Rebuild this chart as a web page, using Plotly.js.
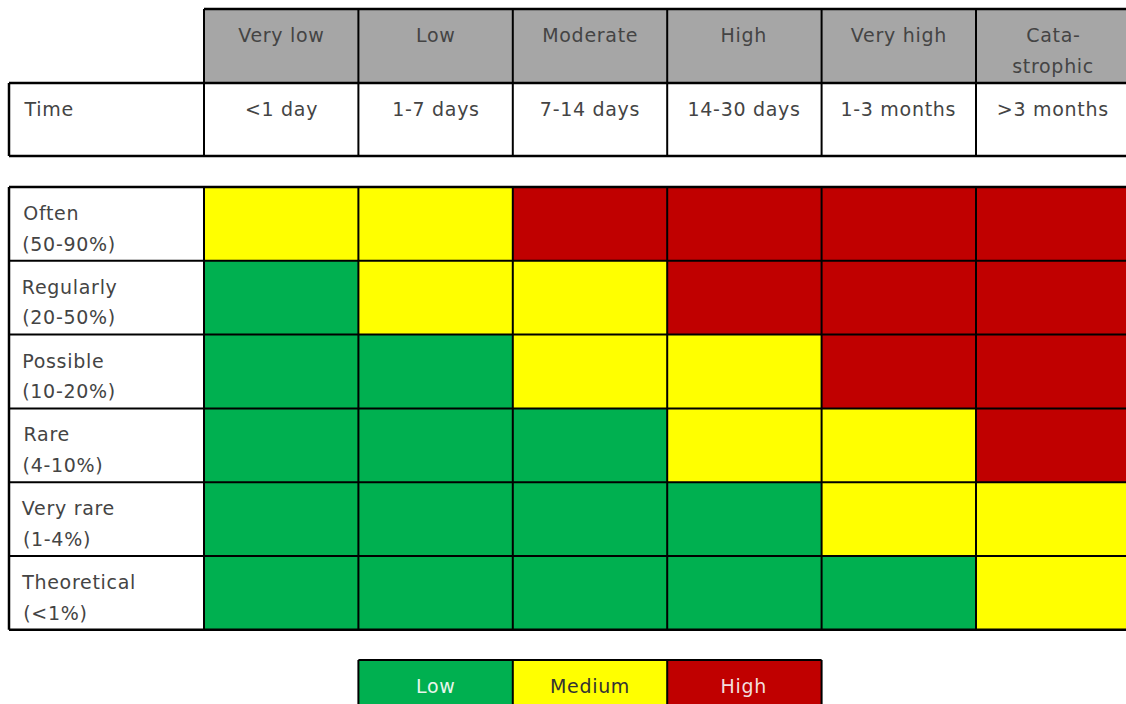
<!DOCTYPE html>
<html>
<head>
<meta charset="utf-8">
<script src="https://cdn.plot.ly/plotly-3.0.1.min.js"></script>
<style>
html,body{margin:0;padding:0;overflow:hidden;background:#fff}
#chart .annotation-text{letter-spacing:0.7px}
</style>
</head>
<body>
<div id="chart" style="width:1126px;height:704px"></div>
<script>
// ---------- data ----------
const impactLevels = ['Very low', 'Low', 'Moderate', 'High', 'Very high', 'Cata-\nstrophic'];
const durations = ['<1 day', '1-7 days', '7-14 days', '14-30 days', '1-3 months', '>3 months'];
const timeLabel = 'Time';
const likelihoods = ['Often', 'Regularly', 'Possible', 'Rare', 'Very rare', 'Theoretical'];
const likelihoodRanges = ['(50-90%)', '(20-50%)', '(10-20%)', '(4-10%)', '(1-4%)', '(<1%)'];
const riskLevels = ['Low', 'Medium', 'High'];
const riskMatrix = [
  ['Medium', 'Medium', 'High',   'High',   'High',   'High'],
  ['Low',    'Medium', 'Medium', 'High',   'High',   'High'],
  ['Low',    'Low',    'Medium', 'Medium', 'High',   'High'],
  ['Low',    'Low',    'Low',    'Medium', 'Medium', 'High'],
  ['Low',    'Low',    'Low',    'Low',    'Medium', 'Medium'],
  ['Low',    'Low',    'Low',    'Low',    'Low',    'Medium']
];

// ---------- style / geometry ----------
const riskColors = ['#00B050', '#FFFF00', '#C00000'];
const riskTextColors = ['#e8f5ec', '#333333', '#f2dede'];
const headerGray = '#A6A6A6';
const W = 1126, H = 704;
const COL_W = 154.4, ROW_H = 73.8;
const MAT_LEFT = 204, LABEL_LEFT = 9, MAT_TOP = 187;
const HEAD_TOP = 9, HEAD_BOT = 83, TIME_BOT = 156, LEG_TOP = 660;
const LEG_START = 1;
const TEXT_OFF = 26, LINE_GAP = 30.5, TEXT_LEFT = 22.5;
const px2x = p => (p - MAT_LEFT) / COL_W - 0.5;
const px2y = p => (p - MAT_TOP) / ROW_H - 0.5;
const esc = s => s.replace(/&/g, '&amp;').replace(/</g, '&lt;').replace(/>/g, '&gt;');

const nCols = impactLevels.length, nRows = likelihoods.length;
const colIdx = impactLevels.map((_, i) => i);
const rowIdx = likelihoods.map((_, j) => j);
const riskScale = [[0, riskColors[0]], [0.25, riskColors[0]], [0.25, riskColors[1]], [0.75, riskColors[1]], [0.75, riskColors[2]], [1, riskColors[2]]];

const traces = [
  { // header rows (impact / time)
    type: 'heatmap', x: colIdx,
    y: [px2y(HEAD_TOP), px2y(HEAD_BOT), px2y(TIME_BOT)],
    z: [impactLevels.map(() => 1), durations.map(() => 0)],
    zmin: 0, zmax: 1,
    colorscale: [[0, '#ffffff'], [0.5, '#ffffff'], [0.5, headerGray], [1, headerGray]],
    showscale: false, hoverinfo: 'skip'
  },
  { // risk matrix
    type: 'heatmap', x: colIdx, y: rowIdx,
    z: riskMatrix.map(r => r.map(v => riskLevels.indexOf(v))),
    zmin: 0, zmax: 2, colorscale: riskScale, showscale: false, hoverinfo: 'skip'
  },
  { // legend
    type: 'heatmap', x: riskLevels.map((_, k) => LEG_START + k),
    y: [px2y(LEG_TOP), px2y(LEG_TOP) + 1],
    z: [riskLevels.map((_, k) => k)],
    zmin: 0, zmax: 2, colorscale: riskScale, showscale: false, hoverinfo: 'skip'
  }
];

const font = { family: 'DejaVu Sans, sans-serif', size: 19, color: '#444444', weight: 400 };
const ann = [];
const addText = (text, x, y, xanchor, color) => ann.push({
  text: esc(text), x, y, xref: 'x', yref: 'y', xanchor, yanchor: 'middle',
  showarrow: false, font: Object.assign({}, font, color ? { color } : {})
});

impactLevels.forEach((lvl, i) => {
  lvl.split('\n').forEach((line, k) => addText(line, i, px2y(HEAD_TOP + TEXT_OFF + k * LINE_GAP), 'center'));
});
addText(timeLabel, px2x(TEXT_LEFT), px2y(HEAD_BOT + TEXT_OFF), 'left');
durations.forEach((d, i) => addText(d, i, px2y(HEAD_BOT + TEXT_OFF), 'center'));
likelihoods.forEach((l, j) => {
  const top = MAT_TOP + j * ROW_H;
  addText(l, px2x(TEXT_LEFT), px2y(top + TEXT_OFF), 'left');
  addText(likelihoodRanges[j], px2x(TEXT_LEFT), px2y(top + TEXT_OFF + LINE_GAP), 'left');
});
riskLevels.forEach((r, k) => addText(r, LEG_START + k, px2y(LEG_TOP + TEXT_OFF), 'center', riskTextColors[k]));

// grid lines
const shapes = [];
const line = (x0, y0, x1, y1, w) => shapes.push({
  type: 'line', xref: 'x', yref: 'y', x0, y0, x1, y1, layer: 'above',
  line: { color: '#000000', width: w || 2 }
});
const xL = px2x(LABEL_LEFT), xR = px2x(W + 10);
const yHT = px2y(HEAD_TOP), yHB = px2y(HEAD_BOT), yTB = px2y(TIME_BOT);
// header block
line(-0.5, yHT, xR, yHT, 2.5);
line(xL, yHB, xR, yHB, 2.5);
line(xL, yTB, xR, yTB, 2.5);
line(xL, yHB, xL, yTB, 2.5);
for (let i = 0; i < nCols; i++) line(i - 0.5, yHT, i - 0.5, yTB, 2);
// matrix block
for (let j = 0; j <= nRows; j++) line(xL, j - 0.5, xR, j - 0.5, (j === 0 || j === nRows) ? 2.5 : 2);
line(xL, -0.5, xL, nRows - 0.5, 2.5);
for (let i = 0; i < nCols; i++) line(i - 0.5, -0.5, i - 0.5, nRows - 0.5, 2);
// legend block
const yLT = px2y(LEG_TOP);
line(LEG_START - 0.5, yLT, LEG_START + riskLevels.length - 0.5, yLT, 2);
for (let k = 0; k <= riskLevels.length; k++) line(LEG_START + k - 0.5, yLT, LEG_START + k - 0.5, yLT + 1, 2);

const layout = {
  width: W, height: H,
  margin: { l: 0, r: 0, t: 0, b: 0, pad: 0 },
  paper_bgcolor: '#ffffff', plot_bgcolor: '#ffffff',
  showlegend: false,
  xaxis: { range: [px2x(0), px2x(W)], visible: false, fixedrange: true },
  yaxis: { range: [px2y(H), px2y(0)], visible: false, fixedrange: true },
  annotations: ann, shapes: shapes,
  font: font
};

Plotly.newPlot('chart', traces, layout, { staticPlot: true, displayModeBar: false });
</script>
</body>
</html>
